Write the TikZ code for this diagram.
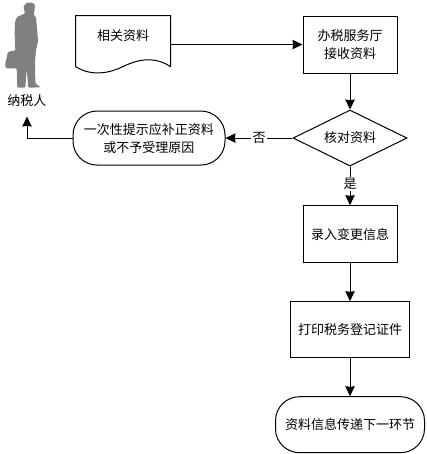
\documentclass[tikz,border=0pt]{standalone}
\usepackage{fontspec}
\setmainfont{Noto Sans CJK SC}
\usepackage{tikz}
\usetikzlibrary{arrows.meta,
positioning,
shapes.geometric,
calc}

\begin{document}
\begin{tikzpicture}[
line width=0.75pt,
every node/.style={font=\fontsize{9.75pt}{13.5pt}\selectfont, inner sep=0pt, align=center},
link/.style={
-{Stealth[length=7.5pt,width=7pt,inset=0.5pt]}
},
process/.style={
draw,
minimum width=70.5pt,
minimum height=42.75pt
},
decision/.style={
draw,
diamond,
shape aspect=2,
minimum width=85.5pt,
minimum height=42pt
},
terminal/.style={
draw,
rounded corners=18pt,
minimum height=42pt
},
edgelabel/.style={
fill=white,
inner sep=1pt
}
]
\useasboundingbox (0,0) rectangle (320.25pt,-340.5pt);

% Top row
\node[process] (service) at (262.5pt,-33.4pt) {办税服务厅\\接收资料};
\node[process, draw=none, text depth=14pt, left=99pt of service] (doc) {相关资料};

% Decision row
\node[decision, below=27pt of service] (check) {核对资料};
\node[terminal, minimum width=114pt, minimum height=40.5pt, left=50.25pt of check] (notice)
{一次性提示应补正资料\\或不予受理原因};

% Lower column
\node[process, below=29pt of check] (entry) {录入变更信息};
\node[process, minimum width=89.25pt, minimum height=42pt, below=28.5pt of entry] (print) {打印税务登记证件};
\node[terminal, minimum width=111.75pt, below=28.5pt of print] (next) {资料信息传递下一环节};

% Taxpayer
\node[minimum width=30pt, minimum height=22.5pt] (taxpayer) at (20.25pt,-75.75pt) {纳税人};
\fill[gray, rounded corners=0.8pt] (20pt,-2pt) -- (24.5pt,-2pt) -- (26.25pt,-3.75pt) -- (25.75pt,-8.75pt) -- (25pt,-10.5pt)
-- (27pt,-13pt) -- (28pt,-23.75pt) -- (28.5pt,-31.25pt) -- (27pt,-37.5pt) -- (26.25pt,-46.25pt) -- (26.5pt,-62.5pt)
-- (30.5pt,-65.5pt) -- (21.25pt,-65.75pt) -- (20pt,-51.25pt) -- (19pt,-65.75pt) -- (13pt,-65.75pt)
-- (12.5pt,-51.25pt) -- (4.5pt,-51.25pt) -- (3.75pt,-48.75pt) -- (6pt,-38.75pt) -- (11.5pt,-38pt) -- (11pt,-25pt)
-- (11.25pt,-16.25pt) -- (13pt,-12.5pt) -- (18pt,-10.5pt) -- (18.75pt,-9.5pt) -- (17.5pt,-5pt) -- cycle;

% Document shape
\draw ([yshift=5.25pt]doc.south west) -- (doc.north west) -- (doc.north east) -- ([yshift=5.25pt]doc.south east)
.. controls +(-12pt,7.5pt) and +(12.75pt,6pt) .. ([yshift=5.25pt]doc.south)
.. controls +(-13.5pt,-6.75pt) and +(9pt,-6pt) .. ([yshift=5.25pt]doc.south west);

% Connections
\draw[link] (doc) -- (service);
\draw[link] (service) -- (check);
\draw[link] (check) -- node[edgelabel] {否} (notice);
\draw[link] (check) -- node[edgelabel, pos=0.45] {是} (entry);
\draw[link] (entry) -- (print);
\draw[link] (print) -- (next);
\draw[link] (notice.west) -| (taxpayer.south);

\end{tikzpicture}
\end{document}
